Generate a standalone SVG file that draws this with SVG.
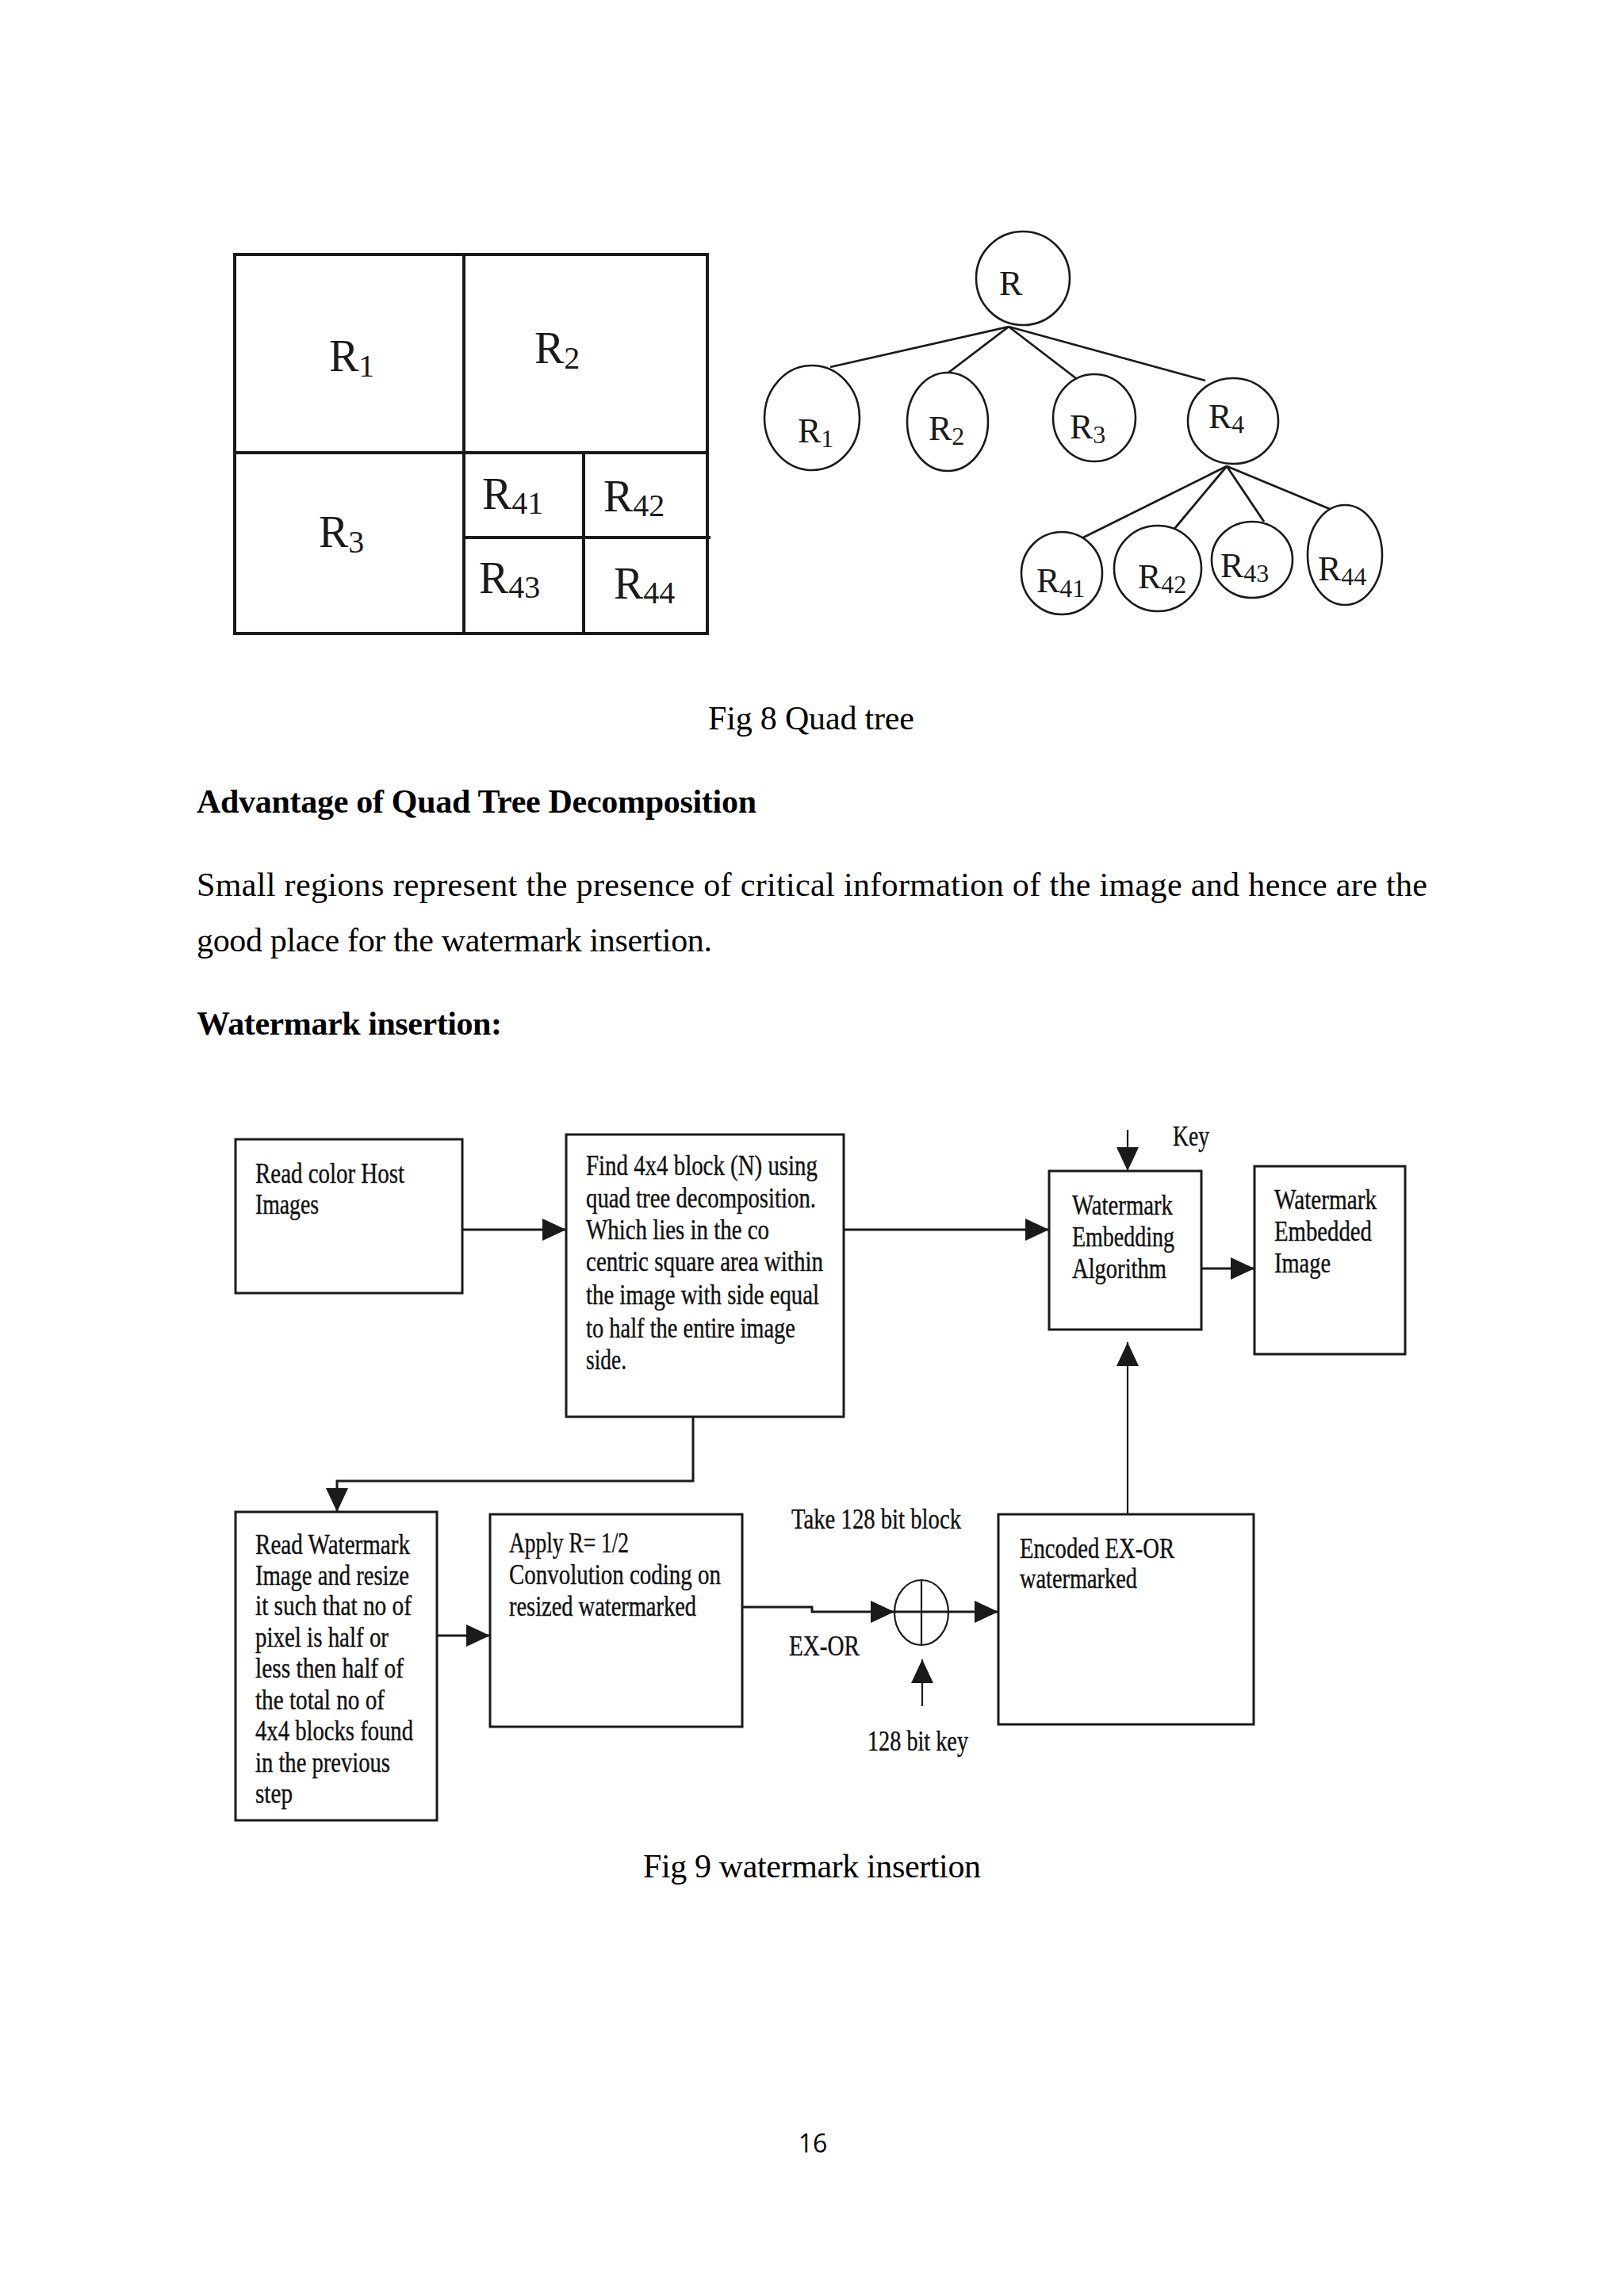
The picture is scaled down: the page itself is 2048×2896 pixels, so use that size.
<svg xmlns="http://www.w3.org/2000/svg" width="2048" height="2896" viewBox="0 0 2048 2896">
<style>
.bg{fill:#ffffff}
.grid{fill:none;stroke:#1a1a1a;stroke-width:4}
.tn{fill:none;stroke:#1a1a1a;stroke-width:2.6}
.tl{fill:none;stroke:#1a1a1a;stroke-width:2.8}
.bx{fill:#ffffff;stroke:#1a1a1a;stroke-width:3}
.ln{fill:none;stroke:#1a1a1a;stroke-width:3}
.thin{fill:none;stroke:#1a1a1a;stroke-width:2.2}
.qg{font-family:"Liberation Serif","Times New Roman",serif;font-size:56px;fill:#1a1a1a}
.qs{font-size:40px}
.tr{font-family:"Liberation Serif","Times New Roman",serif;font-size:44px;fill:#1a1a1a}
.ts{font-size:32px}
.fc{font-family:"Liberation Serif","Times New Roman",serif;font-size:36px;fill:#111111;stroke:#111111;stroke-width:0.4}
.body{font-family:"Liberation Serif","Times New Roman",serif;font-size:42px;fill:#000000}
.b{font-weight:bold}
.pg{font-family:"Open Sans","Liberation Sans",sans-serif;font-size:32px;fill:#000000}
</style>
<defs>
<marker id="ah" markerUnits="userSpaceOnUse" markerWidth="30" markerHeight="28" refX="30" refY="14" orient="auto">
<path d="M0,0 L30,14 L0,28 Z" fill="#1a1a1a"/>
</marker>
</defs>
<rect class="bg" x="0" y="0" width="2048" height="2896"/>

<!-- Quad grid -->
<g id="quad-grid">
<rect class="grid" x="296" y="321" width="596" height="478"/>
<line class="grid" x1="585" y1="321" x2="585" y2="799"/>
<line class="grid" x1="296" y1="571" x2="892" y2="571"/>
<line class="grid" x1="736" y1="571" x2="736" y2="799"/>
<line class="grid" x1="585" y1="678" x2="896" y2="678"/>
<text class="qg" x="415" y="468">R<tspan class="qs" dy="7">1</tspan></text>
<text class="qg" x="674" y="458">R<tspan class="qs" dy="7">2</tspan></text>
<text class="qg" x="402" y="690">R<tspan class="qs" dy="7">3</tspan></text>
<text class="qg" x="608" y="642">R<tspan class="qs" dy="6">41</tspan></text>
<text class="qg" x="761" y="645">R<tspan class="qs" dy="6">42</tspan></text>
<text class="qg" x="604" y="748">R<tspan class="qs" dy="6">43</tspan></text>
<text class="qg" x="774" y="755">R<tspan class="qs" dy="6">44</tspan></text>
</g>

<!-- Quad tree -->
<g id="tree-edges">
<line class="tl" x1="1272" y1="412" x2="1047" y2="463"/>
<line class="tl" x1="1272" y1="412" x2="1196" y2="470"/>
<line class="tl" x1="1272" y1="412" x2="1358" y2="478"/>
<line class="tl" x1="1272" y1="412" x2="1520" y2="480"/>
<line class="tl" x1="1547" y1="588" x2="1366" y2="678"/>
<line class="tl" x1="1547" y1="588" x2="1481" y2="667"/>
<line class="tl" x1="1547" y1="588" x2="1594" y2="658"/>
<line class="tl" x1="1547" y1="588" x2="1677" y2="642"/>
</g>
<g id="node-R"><ellipse class="tn" cx="1290" cy="351" rx="59" ry="59"/><text class="tr" x="1260" y="372">R</text></g>
<g id="node-R1"><ellipse class="tn" cx="1024" cy="527" rx="60" ry="66"/><text class="tr" x="1006" y="558">R<tspan class="ts" dy="6">1</tspan></text></g>
<g id="node-R2"><ellipse class="tn" cx="1195" cy="532" rx="51" ry="62"/><text class="tr" x="1171" y="555">R<tspan class="ts" dy="6">2</tspan></text></g>
<g id="node-R3"><ellipse class="tn" cx="1380" cy="527" rx="52" ry="55"/><text class="tr" x="1349" y="553">R<tspan class="ts" dy="6">3</tspan></text></g>
<g id="node-R4"><ellipse class="tn" cx="1555" cy="531" rx="57" ry="54"/><text class="tr" x="1524" y="540">R<tspan class="ts" dy="6">4</tspan></text></g>
<g id="node-R41"><ellipse class="tn" cx="1339" cy="723" rx="51" ry="52"/><text class="tr" x="1307" y="747">R<tspan class="ts" dy="6">41</tspan></text></g>
<g id="node-R42"><ellipse class="tn" cx="1460" cy="717" rx="55" ry="54"/><text class="tr" x="1435" y="742">R<tspan class="ts" dy="6">42</tspan></text></g>
<g id="node-R43"><ellipse class="tn" cx="1579" cy="706" rx="51" ry="48"/><text class="tr" x="1539" y="728">R<tspan class="ts" dy="6">43</tspan></text></g>
<g id="node-R44"><ellipse class="tn" cx="1696" cy="700" rx="47" ry="63"/><text class="tr" x="1662" y="732">R<tspan class="ts" dy="6">44</tspan></text></g>

<!-- Body text -->
<g id="page-text">
<text class="body" x="1023" y="920" text-anchor="middle" textLength="260">Fig 8 Quad tree</text>
<text class="body b" x="248" y="1025" textLength="706">Advantage of Quad Tree Decomposition</text>
<text class="body" x="248" y="1130" textLength="1552" lengthAdjust="spacing">Small regions represent the presence of critical information of the image and hence are the</text>
<text class="body" x="248" y="1200" textLength="650">good place for the watermark insertion.</text>
<text class="body b" x="248" y="1305" textLength="385">Watermark insertion:</text>
<text class="body" x="1024" y="2368" text-anchor="middle" textLength="426">Fig 9 watermark insertion</text>
<text class="pg" x="1025" y="2715" text-anchor="middle">16</text>
</g>

<!-- Flowchart connectors -->
<g id="connectors">
<line class="ln" x1="583" y1="1551" x2="714" y2="1551" marker-end="url(#ah)"/>
<line class="ln" x1="1064" y1="1551" x2="1323" y2="1551" marker-end="url(#ah)"/>
<line class="thin" x1="1422" y1="1425" x2="1422" y2="1477" marker-end="url(#ah)"/>
<line class="ln" x1="1515" y1="1600" x2="1582" y2="1600" marker-end="url(#ah)"/>
<polyline class="ln" points="874,1787 874,1868 425,1868 425,1907" marker-end="url(#ah)"/>
<line class="ln" x1="551" y1="2063" x2="618" y2="2063" marker-end="url(#ah)"/>
<polyline class="ln" points="936,2027 1024,2027 1024,2033 1128,2033" marker-end="url(#ah)"/>
<line class="ln" x1="1196" y1="2033" x2="1259" y2="2033" marker-end="url(#ah)"/>
<line class="thin" x1="1163" y1="2152" x2="1163" y2="2093" marker-end="url(#ah)"/>
<line class="thin" x1="1422" y1="1910" x2="1422" y2="1693" marker-end="url(#ah)"/>
</g>

<!-- Flowchart nodes -->
<g id="box-read-host">
<rect class="bx" x="297" y="1437" width="286" height="194"/>
<text class="fc" x="322" y="1492" textLength="188" lengthAdjust="spacingAndGlyphs">Read color Host</text>
<text class="fc" x="322" y="1531" textLength="80" lengthAdjust="spacingAndGlyphs">Images</text>
</g>
<g id="box-find-block">
<rect class="bx" x="714" y="1431" width="350" height="356"/>
<text class="fc" x="739" y="1482" textLength="292" lengthAdjust="spacingAndGlyphs">Find 4x4 block (N) using</text>
<text class="fc" x="739" y="1523" textLength="290" lengthAdjust="spacingAndGlyphs">quad tree decomposition.</text>
<text class="fc" x="739" y="1563" textLength="231" lengthAdjust="spacingAndGlyphs">Which lies in the co</text>
<text class="fc" x="739" y="1603" textLength="299" lengthAdjust="spacingAndGlyphs">centric square area within</text>
<text class="fc" x="739" y="1645" textLength="294" lengthAdjust="spacingAndGlyphs">the image with side equal</text>
<text class="fc" x="739" y="1687" textLength="264" lengthAdjust="spacingAndGlyphs">to half the entire image</text>
<text class="fc" x="739" y="1727" textLength="51" lengthAdjust="spacingAndGlyphs">side.</text>
</g>
<g id="box-embedding">
<rect class="bx" x="1323" y="1477" width="192" height="200"/>
<text class="fc" x="1352" y="1532" textLength="127" lengthAdjust="spacingAndGlyphs">Watermark</text>
<text class="fc" x="1352" y="1572" textLength="129" lengthAdjust="spacingAndGlyphs">Embedding</text>
<text class="fc" x="1352" y="1612" textLength="119" lengthAdjust="spacingAndGlyphs">Algorithm</text>
</g>
<g id="label-key"><text class="fc" x="1479" y="1445" textLength="46" lengthAdjust="spacingAndGlyphs">Key</text></g>
<g id="box-embedded-image">
<rect class="bx" x="1582" y="1471" width="190" height="237"/>
<text class="fc" x="1607" y="1525" textLength="129" lengthAdjust="spacingAndGlyphs">Watermark</text>
<text class="fc" x="1607" y="1565" textLength="123" lengthAdjust="spacingAndGlyphs">Embedded</text>
<text class="fc" x="1607" y="1605" textLength="71" lengthAdjust="spacingAndGlyphs">Image</text>
</g>
<g id="box-read-watermark">
<rect class="bx" x="297" y="1907" width="254" height="389"/>
<text class="fc" x="322" y="1960" textLength="195" lengthAdjust="spacingAndGlyphs">Read Watermark</text>
<text class="fc" x="322" y="1999" textLength="194" lengthAdjust="spacingAndGlyphs">Image and resize</text>
<text class="fc" x="322" y="2037" textLength="197" lengthAdjust="spacingAndGlyphs">it such that no of</text>
<text class="fc" x="322" y="2077" textLength="168" lengthAdjust="spacingAndGlyphs">pixel is half or</text>
<text class="fc" x="322" y="2116" textLength="187" lengthAdjust="spacingAndGlyphs">less then half of</text>
<text class="fc" x="322" y="2156" textLength="163" lengthAdjust="spacingAndGlyphs">the total no of</text>
<text class="fc" x="322" y="2195" textLength="199" lengthAdjust="spacingAndGlyphs">4x4 blocks found</text>
<text class="fc" x="322" y="2235" textLength="170" lengthAdjust="spacingAndGlyphs">in the previous</text>
<text class="fc" x="322" y="2274" textLength="47" lengthAdjust="spacingAndGlyphs">step</text>
</g>
<g id="box-convolution">
<rect class="bx" x="618" y="1910" width="318" height="268"/>
<text class="fc" x="642" y="1958" textLength="151" lengthAdjust="spacingAndGlyphs">Apply R= 1/2</text>
<text class="fc" x="642" y="1998" textLength="267" lengthAdjust="spacingAndGlyphs">Convolution coding on</text>
<text class="fc" x="642" y="2038" textLength="236" lengthAdjust="spacingAndGlyphs">resized watermarked</text>
</g>
<g id="xor-node">
<ellipse class="thin" cx="1162" cy="2034" rx="34" ry="41"/>
<line class="thin" x1="1162" y1="1993" x2="1162" y2="2075"/>
<line class="ln" x1="1128" y1="2033" x2="1196" y2="2033"/>
</g>
<g id="label-take"><text class="fc" x="998" y="1928" textLength="214" lengthAdjust="spacingAndGlyphs">Take 128 bit block</text></g>
<g id="label-exor"><text class="fc" x="995" y="2088" textLength="89" lengthAdjust="spacingAndGlyphs">EX-OR</text></g>
<g id="label-key128"><text class="fc" x="1094" y="2208" textLength="127" lengthAdjust="spacingAndGlyphs">128 bit key</text></g>
<g id="box-encoded">
<rect class="bx" x="1259" y="1910" width="322" height="265"/>
<text class="fc" x="1286" y="1965" textLength="195" lengthAdjust="spacingAndGlyphs">Encoded EX-OR</text>
<text class="fc" x="1286" y="2003" textLength="148" lengthAdjust="spacingAndGlyphs">watermarked</text>
</g>
</svg>
